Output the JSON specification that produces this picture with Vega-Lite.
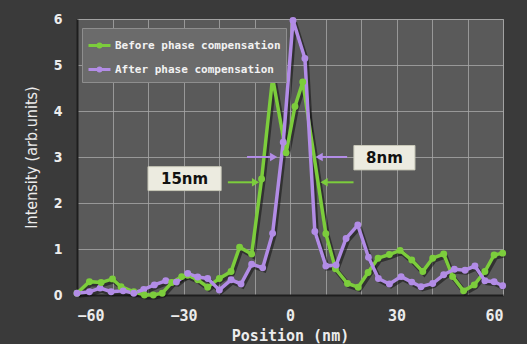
{
  "$schema": "https://vega.github.io/schema/vega-lite/v6.json",
  "autosize": "none",
  "width": 426,
  "height": 276,
  "padding": {"left": 77, "top": 19, "right": 24, "bottom": 49},
  "background": "#3a3a3a",
  "config": {
    "view": {"fill": "#5a5a5a", "stroke": "#8a8a8a", "strokeWidth": 1},
    "axis": {
      "gridColor": "#a8a8a8",
      "gridOpacity": 0.8,
      "gridWidth": 1,
      "domainColor": "#1e1e1e",
      "domainWidth": 2,
      "ticks": false,
      "labelColor": "#ececec",
      "titleColor": "#ececec"
    }
  },
  "resolve": {"axis": {"x": "independent"}},
  "datasets": {
    "profile": [
      {"series": "Before phase compensation", "pos": -60, "intensity": 0.04},
      {"series": "Before phase compensation", "pos": -56.5, "intensity": 0.29},
      {"series": "Before phase compensation", "pos": -53.2, "intensity": 0.27},
      {"series": "Before phase compensation", "pos": -50, "intensity": 0.35},
      {"series": "Before phase compensation", "pos": -47.6, "intensity": 0.18},
      {"series": "Before phase compensation", "pos": -44, "intensity": 0.07},
      {"series": "Before phase compensation", "pos": -41, "intensity": 0.0},
      {"series": "Before phase compensation", "pos": -38.5, "intensity": 0.0},
      {"series": "Before phase compensation", "pos": -36, "intensity": 0.04},
      {"series": "Before phase compensation", "pos": -33.3, "intensity": 0.27},
      {"series": "Before phase compensation", "pos": -30.5, "intensity": 0.4},
      {"series": "Before phase compensation", "pos": -28.8, "intensity": 0.43},
      {"series": "Before phase compensation", "pos": -26, "intensity": 0.33},
      {"series": "Before phase compensation", "pos": -23.2, "intensity": 0.17},
      {"series": "Before phase compensation", "pos": -19.9, "intensity": 0.36},
      {"series": "Before phase compensation", "pos": -16.6, "intensity": 0.51},
      {"series": "Before phase compensation", "pos": -14.2, "intensity": 1.04},
      {"series": "Before phase compensation", "pos": -10.8, "intensity": 0.89},
      {"series": "Before phase compensation", "pos": -8, "intensity": 2.52},
      {"series": "Before phase compensation", "pos": -4.9, "intensity": 4.72},
      {"series": "Before phase compensation", "pos": -1.1, "intensity": 3.09},
      {"series": "Before phase compensation", "pos": 1.4, "intensity": 4.1},
      {"series": "Before phase compensation", "pos": 3.6, "intensity": 4.63},
      {"series": "Before phase compensation", "pos": 10.1, "intensity": 1.33},
      {"series": "Before phase compensation", "pos": 12.8, "intensity": 0.57},
      {"series": "Before phase compensation", "pos": 16.2, "intensity": 0.25},
      {"series": "Before phase compensation", "pos": 19.2, "intensity": 0.17},
      {"series": "Before phase compensation", "pos": 22, "intensity": 0.49},
      {"series": "Before phase compensation", "pos": 24.8, "intensity": 0.8},
      {"series": "Before phase compensation", "pos": 28, "intensity": 0.88},
      {"series": "Before phase compensation", "pos": 31, "intensity": 0.97},
      {"series": "Before phase compensation", "pos": 34.3, "intensity": 0.76},
      {"series": "Before phase compensation", "pos": 37.4, "intensity": 0.51},
      {"series": "Before phase compensation", "pos": 40.2, "intensity": 0.8},
      {"series": "Before phase compensation", "pos": 43.3, "intensity": 0.89},
      {"series": "Before phase compensation", "pos": 45.8, "intensity": 0.4},
      {"series": "Before phase compensation", "pos": 48.9, "intensity": 0.09},
      {"series": "Before phase compensation", "pos": 51.9, "intensity": 0.22},
      {"series": "Before phase compensation", "pos": 54.9, "intensity": 0.51},
      {"series": "Before phase compensation", "pos": 57.5, "intensity": 0.87},
      {"series": "Before phase compensation", "pos": 59.9, "intensity": 0.91},
      {"series": "After phase compensation", "pos": -60, "intensity": 0.04},
      {"series": "After phase compensation", "pos": -56.5, "intensity": 0.07},
      {"series": "After phase compensation", "pos": -53.5, "intensity": 0.15},
      {"series": "After phase compensation", "pos": -50.4, "intensity": 0.07},
      {"series": "After phase compensation", "pos": -47, "intensity": 0.09},
      {"series": "After phase compensation", "pos": -44, "intensity": 0.04},
      {"series": "After phase compensation", "pos": -41.2, "intensity": 0.12},
      {"series": "After phase compensation", "pos": -38.2, "intensity": 0.22},
      {"series": "After phase compensation", "pos": -35, "intensity": 0.31},
      {"series": "After phase compensation", "pos": -32, "intensity": 0.28},
      {"series": "After phase compensation", "pos": -28.8, "intensity": 0.47},
      {"series": "After phase compensation", "pos": -26, "intensity": 0.39},
      {"series": "After phase compensation", "pos": -23.2, "intensity": 0.36},
      {"series": "After phase compensation", "pos": -19.9, "intensity": 0.11},
      {"series": "After phase compensation", "pos": -16.6, "intensity": 0.33},
      {"series": "After phase compensation", "pos": -13.8, "intensity": 0.24},
      {"series": "After phase compensation", "pos": -10.8, "intensity": 0.67},
      {"series": "After phase compensation", "pos": -7.7, "intensity": 0.59},
      {"series": "After phase compensation", "pos": -4.9, "intensity": 1.34},
      {"series": "After phase compensation", "pos": -1.9, "intensity": 3.32},
      {"series": "After phase compensation", "pos": 0.85, "intensity": 5.97},
      {"series": "After phase compensation", "pos": 4.2, "intensity": 5.14},
      {"series": "After phase compensation", "pos": 7, "intensity": 1.38},
      {"series": "After phase compensation", "pos": 10.1, "intensity": 0.63},
      {"series": "After phase compensation", "pos": 13, "intensity": 0.65},
      {"series": "After phase compensation", "pos": 15.8, "intensity": 1.23},
      {"series": "After phase compensation", "pos": 19.1, "intensity": 1.52},
      {"series": "After phase compensation", "pos": 22.1, "intensity": 0.82},
      {"series": "After phase compensation", "pos": 24.9, "intensity": 0.36},
      {"series": "After phase compensation", "pos": 28, "intensity": 0.24},
      {"series": "After phase compensation", "pos": 31.3, "intensity": 0.4},
      {"series": "After phase compensation", "pos": 34.3, "intensity": 0.28},
      {"series": "After phase compensation", "pos": 36.9, "intensity": 0.18},
      {"series": "After phase compensation", "pos": 40.2, "intensity": 0.25},
      {"series": "After phase compensation", "pos": 43.3, "intensity": 0.44},
      {"series": "After phase compensation", "pos": 46.3, "intensity": 0.56},
      {"series": "After phase compensation", "pos": 49.3, "intensity": 0.54},
      {"series": "After phase compensation", "pos": 52.1, "intensity": 0.63},
      {"series": "After phase compensation", "pos": 54.9, "intensity": 0.31},
      {"series": "After phase compensation", "pos": 57.5, "intensity": 0.29},
      {"series": "After phase compensation", "pos": 59.9, "intensity": 0.2}
    ],
    "boxes": [
      {"label": "15nm", "x1": -40, "x2": -19.4, "y1": 2.27, "y2": 2.79, "xc": -29.7, "yc": 2.53},
      {"label": "8nm", "x1": 18, "x2": 35.2, "y1": 2.72, "y2": 3.25, "xc": 26.6, "yc": 2.98}
    ],
    "arrows": [
      {"series": "After phase compensation", "from": -12.1, "head": -4.6, "y": 3.0, "dir": "right"},
      {"series": "After phase compensation", "from": 16.1, "head": 8.2, "y": 3.0, "dir": "left"},
      {"series": "Before phase compensation", "from": -17.5, "head": -9.7, "y": 2.45, "dir": "right"},
      {"series": "Before phase compensation", "from": 17.9, "head": 9.6, "y": 2.45, "dir": "left"}
    ]
  },
  "layer": [
    {
      "data": {"name": "profile"},
      "mark": {"type": "line", "color": "#111111", "opacity": 0.55, "strokeWidth": 5, "xOffset": 1.5, "yOffset": 2},
      "encoding": {
        "x": {"field": "pos", "type": "quantitative", "scale": {"domain": [-60, 60], "nice": false},
          "axis": {"orient": "top", "values": [-60, -50, -40, -30, -20, -10, 0, 10, 20, 30, 40, 50, 60],
            "labels": false, "domain": false, "ticks": false, "title": null, "grid": true}},
        "y": {"field": "intensity", "type": "quantitative", "scale": {"domain": [0, 6], "nice": false},
          "axis": {"values": [0, 1, 2, 3, 4, 5, 6],
            "labelFont": "DejaVu Sans Condensed", "labelFontWeight": "bold", "labelFontSize": 14, "labelPadding": 15,
            "title": "Intensity (arb.units)", "titleFont": "DejaVu Sans Condensed", "titleFontWeight": "normal", "titleFontSize": 16, "titlePadding": 14}},
        "detail": {"field": "series"}
      }
    },
    {
      "data": {"name": "profile"},
      "mark": {"type": "line", "strokeWidth": 3.5, "point": {"filled": true, "size": 48, "opacity": 1}},
      "encoding": {
        "x": {"field": "pos", "type": "quantitative",
          "axis": {"orient": "bottom", "values": [-60, -30, 0, 30, 60], "grid": false, "labelOverlap": false,
            "labelFont": "DejaVu Sans Mono", "labelFontWeight": "bold", "labelFontSize": 15, "labelPadding": 13,
            "title": "Position (nm)", "titleFont": "DejaVu Sans Mono", "titleFontWeight": "bold", "titleFontSize": 15, "titlePadding": 5}},
        "y": {"field": "intensity", "type": "quantitative"},
        "color": {"field": "series", "type": "nominal",
          "scale": {"domain": ["Before phase compensation", "After phase compensation"], "range": ["#7ccd3c", "#b28ce6"]},
          "legend": {"title": null, "orient": "none", "legendX": 5, "legendY": 9,
            "fillColor": "#6b6b6b", "strokeColor": "#8e8e8e", "padding": 5,
            "symbolType": "M-1,0L1,0M0.13,0A0.13,0.13,0,1,1,-0.13,0A0.13,0.13,0,1,1,0.13,0",
            "symbolSize": 484, "symbolStrokeWidth": 3, "symbolOpacity": 1,
            "labelFont": "DejaVu Sans Mono", "labelFontWeight": "bold", "labelFontSize": 11, "labelColor": "#f2f2f2",
            "labelLimit": 300, "labelOffset": 3, "rowPadding": 4}},
        "order": {"field": "pos", "type": "quantitative"}
      }
    },
    {
      "data": {"name": "boxes"},
      "mark": {"type": "rect", "fill": "#ecebe0", "stroke": "#c8c8b8", "strokeWidth": 1},
      "encoding": {
        "x": {"field": "x1", "type": "quantitative", "axis": null},
        "x2": {"field": "x2"},
        "y": {"field": "y1", "type": "quantitative"},
        "y2": {"field": "y2"}
      }
    },
    {
      "data": {"name": "boxes"},
      "mark": {"type": "text", "font": "DejaVu Sans", "fontWeight": "bold", "fontSize": 15, "color": "#111111", "align": "center", "baseline": "middle"},
      "encoding": {
        "x": {"field": "xc", "type": "quantitative", "axis": null},
        "y": {"field": "yc", "type": "quantitative"},
        "text": {"field": "label"}
      }
    },
    {
      "data": {"name": "arrows"},
      "mark": {"type": "rule", "strokeWidth": 2},
      "encoding": {
        "x": {"field": "from", "type": "quantitative", "axis": null},
        "x2": {"field": "head"},
        "y": {"field": "y", "type": "quantitative"},
        "color": {"field": "series", "type": "nominal"}
      }
    },
    {
      "data": {"name": "arrows"},
      "mark": {"type": "point", "filled": true, "size": 70, "opacity": 1},
      "encoding": {
        "x": {"field": "head", "type": "quantitative", "axis": null},
        "y": {"field": "y", "type": "quantitative"},
        "color": {"field": "series", "type": "nominal"},
        "shape": {"field": "dir", "type": "nominal", "scale": {"domain": ["right", "left"], "range": ["triangle-right", "triangle-left"]}, "legend": null}
      }
    }
  ]
}
